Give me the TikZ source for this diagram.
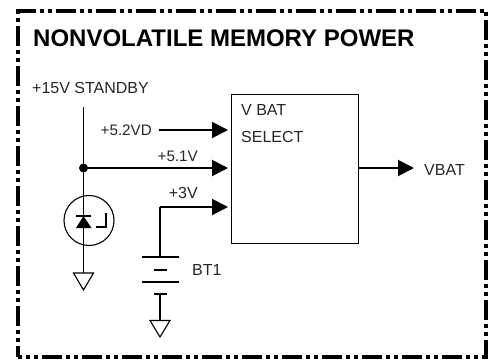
\documentclass[tikz,border=0pt]{standalone}
\usepackage{fontspec}
\setmainfont{Liberation Sans}
\usetikzlibrary{arrows.meta}
\tikzset{
  lbl/.style={inner sep=0pt,font=\fontsize{16}{18}\selectfont,text=black!85},
  lblnarrow/.style={inner sep=0pt,font=\fontsize{15.2}{18}\selectfont,text=black!85},
  wire/.style={line width=1.2pt},
  bus/.style={line width=2pt,-{Triangle[length=16pt,width=16pt]},shorten >=0pt},
  frame/.style={line width=4pt,dash pattern=on 20pt off 4pt on 4pt off 4pt on 4pt off 4pt},
  plate/.style={line width=1.4pt},
  gnd/.style={line width=1.1pt,line join=miter},
}
\begin{document}
\begin{tikzpicture}[x=1pt,y=-1pt]
\useasboundingbox (0,0) rectangle (491,360);
\coordinate (tl) at (18,11);
\coordinate (tr) at (486,11);
\coordinate (br) at (486,357);
\coordinate (bl) at (18,357);
\draw[frame] (16,11) -- (tr);
\draw[frame,dash phase=31pt] (tr) -- (br);
\draw[frame,dash phase=16pt] (bl) -- (488,357);
\draw[frame,dash phase=25pt] (tl) -- (bl);
\node[anchor=base west,inner sep=0pt,font=\bfseries\fontsize{24}{28}\selectfont] (title) at (33,46) {NONVOLATILE MEMORY POWER};
\node[lbl,anchor=base west] (standby) at (32,93) {+15V STANDBY};
\node[draw,line width=1.2pt,minimum width=127pt,minimum height=149pt,anchor=north west,inner sep=0pt] (sel) at (231,94) {};
\node[lbl,anchor=base west] (vbat1) at (241,115) {V BAT};
\node[lbl,anchor=base west] (select) at (241,142) {SELECT};
\node[lblnarrow,anchor=base east] (vd) at (152,135) {+5.2VD};
\node[lblnarrow,anchor=base east] (v51) at (198,161) {+5.1V};
\node[lbl,anchor=base east] (v3) at (198,198) {+3V};
\node[lbl,anchor=base west] (bt) at (192,275) {BT1};
\node[lbl,anchor=base west] (vbatout) at (424,175) {VBAT};
% coordinates
\coordinate (top) at (83.5,107);
\coordinate (junction) at (83.5,168);
\coordinate (g1) at (83.5,273);
\coordinate (a52) at (159,130);
\coordinate (b52) at (228,130);
\coordinate (b51) at (228,168);
\coordinate (c3) at (160,207);
\coordinate (b3) at (228,207);
\coordinate (p1) at (160,257);
\coordinate (p4) at (160,294);
\coordinate (g2) at (160,320);
\coordinate (o1) at (358,168);
\coordinate (o2) at (414,168);
% wires
\draw[wire] (top) -- (g1);
\fill (junction) circle (4.5pt);
\draw[bus] (a52) -- (b52);
\draw[bus] (junction) -- (b51);
\draw[wire] (p1) -- (c3);
\draw[bus] (c3) -- (b3);
\draw[bus] (o1) -- (o2);
% zener
\node[draw,circle,line width=1.1pt,minimum size=50pt,inner sep=0pt] (zen) at (89,220.5) {};
\fill (83.5,216) -- (76,228) -- (91.5,228) -- cycle;
\draw[line width=1.1pt] (76,216) -- (91,216);
\draw[line width=1.1pt] (96,227) -- (106,227) -- (106,213);
% battery
\draw[plate] (142,257) -- (179,257);
\draw[line width=1.8pt] (154,270) -- (167,270);
\draw[plate] (142,282) -- (179,282);
\draw[line width=1.8pt] (154,294) -- (167,294);
\draw[wire] (p4) -- (g2);
% grounds
\draw[gnd] (73.5,273) -- (93.5,273) -- (83.5,290) -- cycle;
\draw[gnd] (150,320.5) -- (170,320.5) -- (160,337) -- cycle;
\end{tikzpicture}
\end{document}
